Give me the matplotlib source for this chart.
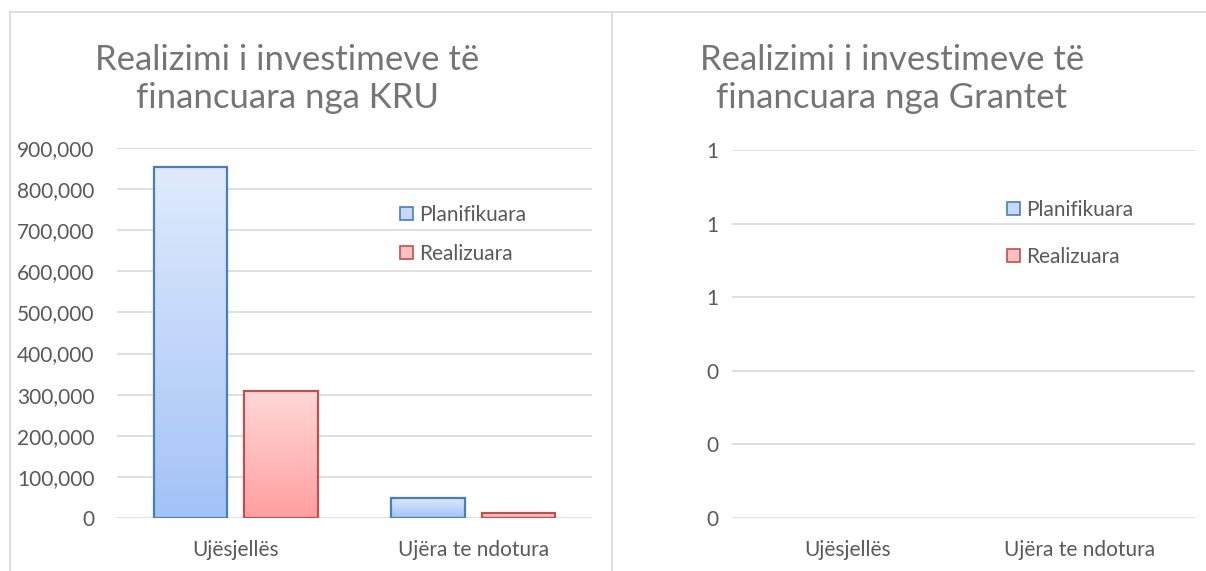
import numpy as np
import matplotlib
matplotlib.use('Agg')
import matplotlib.pyplot as plt
from matplotlib.lines import Line2D
from matplotlib.patches import Patch
from matplotlib.colors import LinearSegmentedColormap

# Data
categories = ['Ujësjellës', 'Ujëra te ndotura']
kru_planned = [855000, 49000]
kru_realized = [310000, 12000]
grant_planned = [0, 0]
grant_realized = [0, 0]
series_names = ['Planifikuara', 'Realizuara']

title_kru = 'Realizimi i investimeve të\nfinancuara nga KRU'
title_grant = 'Realizimi i investimeve të\nfinancuara nga Grantet'

plt.rcParams['font.family'] = ['Lato', 'DejaVu Sans']
TXT = '#595959'
GRID = '#d9d9d9'
FS = 15

blue_cmap = LinearSegmentedColormap.from_list('b', ['#a3c2f7', '#e0ebfc'])
red_cmap = LinearSegmentedColormap.from_list('r', ['#ff9f9f', '#ffd8d8'])
blue_edge = '#4a7ebb'
red_edge = '#c0504d'

fig = plt.figure(figsize=(12.06, 5.71), dpi=100)

# panel frame lines
W, H = 1206, 571
fig.add_artist(Line2D([10 / W, 1], [1 - 12 / H, 1 - 12 / H], color=GRID, lw=1.2))
fig.add_artist(Line2D([10 / W, 10 / W], [0, 1 - 12 / H], color=GRID, lw=1.2))
fig.add_artist(Line2D([612 / W, 612 / W], [0, 1 - 12 / H], color=GRID, lw=1.2))


def gradient_bars(ax, bars, cmap):
    grad = np.linspace(0, 1, 256).reshape(-1, 1)
    for b in bars:
        x, y = b.get_xy()
        w, h = b.get_width(), b.get_height()
        if h <= 0:
            continue
        im = ax.imshow(grad, cmap=cmap, origin='lower', aspect='auto',
                       extent=[x, x + w, y, y + h], zorder=2)
        im.set_clip_path(b)


def draw_bars(ax, pos, vals, edge, cmap):
    lws = [1.6 if v > 0 else 0 for v in vals]
    bars = ax.bar(pos, vals, bw, facecolor='none', edgecolor=edge, linewidth=lws, zorder=3)
    gradient_bars(ax, bars, cmap)
    return bars


def style_axes(ax, pad_y):
    for s in ax.spines.values():
        s.set_visible(False)
    ax.grid(axis='y', color=GRID, lw=1.2)
    ax.set_axisbelow(True)
    ax.tick_params(length=0, labelsize=FS, colors=TXT)
    ax.tick_params(axis='y', pad=pad_y)
    ax.tick_params(axis='x', pad=16)
    ax.set_xlim(-0.5, len(categories) - 0.5)
    ax.set_xticks(range(len(categories)))
    ax.set_xticklabels(categories)


x = np.arange(len(categories))
bw = 0.31
off = 0.19

# left chart
ax1 = fig.add_axes([117 / W, 1 - 518 / H, 475 / W, 370 / H])
draw_bars(ax1, x - off, kru_planned, blue_edge, blue_cmap)
draw_bars(ax1, x + off, kru_realized, red_edge, red_cmap)
ax1.set_ylim(0, 900000)
ax1.set_yticks(np.arange(0, 900001, 100000))
ax1.yaxis.set_major_formatter(matplotlib.ticker.FuncFormatter(lambda v, p: f'{v:,.0f}'))
style_axes(ax1, 16)

# right chart
ax2 = fig.add_axes([732 / W, 1 - 518 / H, 463 / W, 368 / H])
draw_bars(ax2, x - off, grant_planned, blue_edge, blue_cmap)
draw_bars(ax2, x + off, grant_realized, red_edge, red_cmap)
ax2.set_ylim(0, 1)
ax2.set_yticks(np.arange(0, 1.01, 0.2))
ax2.yaxis.set_major_formatter(matplotlib.ticker.FuncFormatter(lambda v, p: f'{v:.0f}'))
style_axes(ax2, 10)

# titles
fig.text(287 / W, 1 - 79 / H, title_kru, ha='center', va='center', fontsize=25,
         color='#757575', linespacing=1.25)
fig.text(892 / W, 1 - 79 / H, title_grant, ha='center', va='center', fontsize=25,
         color='#757575', linespacing=1.25)

# legends
handles = [Patch(facecolor='#c6d9fa', edgecolor=blue_edge, lw=1.2),
           Patch(facecolor='#ffc0c0', edgecolor=red_edge, lw=1.2)]
fig.legend(handles, series_names, loc='upper left', bbox_to_anchor=(400 / W, 1 - 205 / H),
           frameon=False, fontsize=FS, labelcolor=TXT, handlelength=0.6, handleheight=0.6,
           handletextpad=0.3, labelspacing=0.9, borderpad=0, borderaxespad=0)
fig.legend(handles, series_names, loc='upper left', bbox_to_anchor=(1007 / W, 1 - 200 / H),
           frameon=False, fontsize=FS, labelcolor=TXT, handlelength=0.6, handleheight=0.6,
           handletextpad=0.3, labelspacing=1.3, borderpad=0, borderaxespad=0)

fig.savefig('out.png', dpi=100, facecolor='white')
